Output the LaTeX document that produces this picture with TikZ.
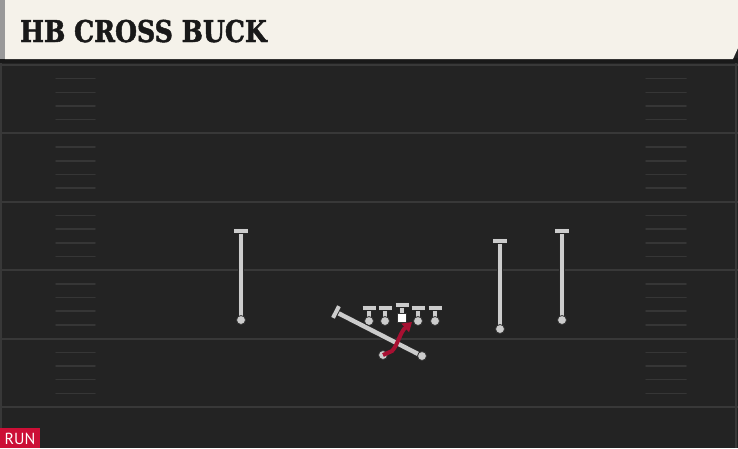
\documentclass[tikz,border=0pt]{standalone}
\usepackage{fontspec}
\usetikzlibrary{arrows.meta,calc}

\newfontfamily\titlefont[FakeStretch=0.84, BoldFeatures={FakeBold=1.6}]{DejaVu Serif}
\newfontfamily\tagfont{PT Sans}

\definecolor{turf}{RGB}{35,35,35}
\definecolor{yardgray}{RGB}{56,56,56}
\definecolor{hashgray}{RGB}{54,54,54}
\definecolor{chalk}{RGB}{204,204,204}
\definecolor{banner}{RGB}{245,242,234}
\definecolor{runred}{RGB}{168,16,50}
\definecolor{tagred}{RGB}{204,15,54}

\tikzset{
  yardline/.style={draw=yardgray, line width=2pt},
  hashmark/.style={draw=hashgray, line width=1.5pt, line cap=round},
  stem/.style={draw=chalk, line width=4.4pt, preaction={draw=black!85, line width=6.4pt}},
  tbar/.style={draw=chalk, line width=4pt, preaction={draw=black!85, line width=5.8pt}},
  footdot/.style={circle, fill=chalk, draw=black!80, line width=0.8pt, inner sep=0pt, minimum size=9pt},
  runroute/.style={draw=runred, line width=4pt, -{Triangle[length=9pt,width=11pt]}},
}

\begin{document}
\begin{tikzpicture}[x=1pt,y=1pt,yscale=-1]
\useasboundingbox (0,0) rectangle (738,448);

% field
\fill[turf] (0,0) rectangle (738,448);
\fill[black!90] (0,58) rectangle (738,63);
\draw[yardgray, line width=1.5pt] (1,63) -- (1,448);
\draw[yardgray, line width=1.5pt] (736,63) -- (736,448);

% yard lines and hash marks
\foreach \k in {0,...,5}{
  \pgfmathsetmacro\yy{65+68.4*\k}
  \draw[yardline] (0,\yy) -- (738,\yy);
}
\foreach \k in {0,...,4}{
  \foreach \j in {1,...,4}{
    \pgfmathsetmacro\yy{65+68.4*\k+13.68*\j}
    \draw[hashmark] (56,\yy) -- (95,\yy);
    \draw[hashmark] (646,\yy) -- (686,\yy);
  }
}

% title banner
\fill[black!40] (0,0) rectangle (5,59);
\fill[banner] (5,0) -- (738,0) -- (738,48) -- (733,59) -- (5,59) -- cycle;
\node[anchor=base west, inner sep=0pt, text=black!90] (title) at (20,42)
  {\titlefont\fontsize{30}{30}\selectfont\bfseries HB CROSS BUCK};

% receivers
\foreach \name/\x/\top/\bot in {wrl/241/231/320, tew/500/241/329, wrr/562/231/320}{
  \coordinate (\name top) at (\x,\top);
  \coordinate (\name end) at (\x,\bot);
  \draw[stem] (\name top) -- (\name end);
  \draw[tbar] ($(\name top)+(-7,0)$) -- ($(\name top)+(7,0)$);
  \node[footdot] (\name dot) at (\name end) {};
}

% offensive line
\foreach \name/\x in {lt/369, lg/385, rg/418, rt/435}{
  \coordinate (\name top) at (\x,308);
  \coordinate (\name end) at (\x,321);
  \draw[stem] (\name top) -- (\name end);
  \draw[tbar] ($(\name top)+(-6.5,0)$) -- ($(\name top)+(6.5,0)$);
  \node[footdot] (\name dot) at (\name end) {};
}
\coordinate (ctop) at (402,305);
\coordinate (cend) at (402,316);
\draw[stem] (ctop) -- (cend);
\draw[tbar] ($(ctop)+(-6.5,0)$) -- ($(ctop)+(6.5,0)$);
\node[fill=white, draw=black!80, line width=0.6pt, minimum size=9pt, inner sep=0pt] (center) at (402,318) {};

% fullback
\coordinate (fbtop) at (336,312);
\coordinate (fbend) at (422,356);
\draw[stem] (fbtop) -- (fbend);
\draw[tbar] ($(fbtop)!6.5pt!90:(fbend)$) -- ($(fbtop)!6.5pt!-90:(fbend)$);
\node[footdot] (fbdot) at (fbend) {};

% halfback and run
\node[footdot] (hb) at (383,355) {};
\coordinate (gap) at (412,322);
\draw[runroute] (hb.center) -- (392,351) .. controls (397,346) and (399,336) .. (404,329) -- (gap);

% play type tag
\fill[tagred] (0,428) rectangle (40,448);
\node[text=white, inner sep=0pt] (tag) at (20,439) {\tagfont\fontsize{16}{16}\selectfont RUN};

\end{tikzpicture}
\end{document}
